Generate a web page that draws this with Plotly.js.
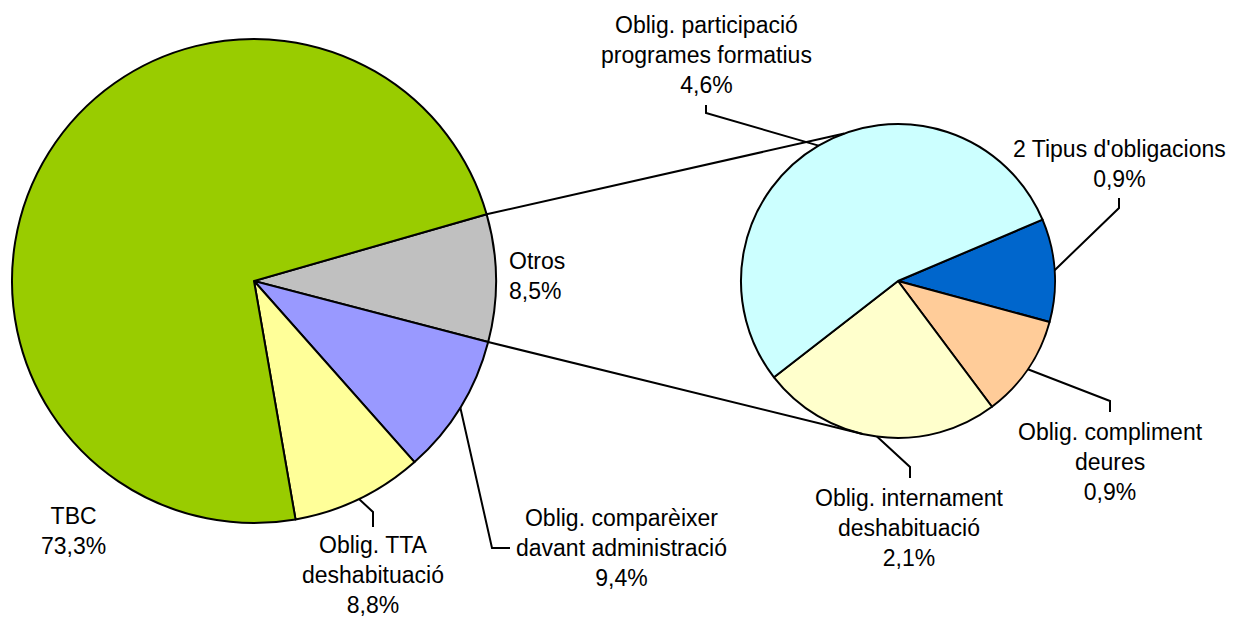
<!DOCTYPE html>
<html>
<head>
<meta charset="utf-8">
<script src="https://cdn.plot.ly/plotly-3.0.1.min.js"></script>
<style>html,body{margin:0;padding:0;background:#fff;}#chart{width:1236px;height:617px;}</style>
</head>
<body>
<div id="chart"></div>
<script>
// ---- data ----
const mainLabels = ["Otros", "Oblig. comparèixer<br>davant administració", "Oblig. TTA<br>deshabituació", "TBC"];
const mainValues = [8.5, 9.4, 8.8, 73.3];
const mainColors = ["#C0C0C0", "#9999FF", "#FFFF99", "#99CC00"];

const subLabels = ["2 Tipus d'obligacions", "Oblig. compliment<br>deures", "Oblig. internament<br>deshabituació", "Oblig. participació<br>programes formatius"];
const subValues = [0.9, 0.9, 2.1, 4.6];
const subColors = ["#0066CC", "#FFCC99", "#FFFFCC", "#CCFFFF"];

const fmt = v => v.toFixed(1).replace('.', ',') + '%';

// ---- geometry (pixels) ----
const W = 1236, H = 617;
const M = {cx: 254, cy: 281, r: 242, rot: 74};
const S = {cx: 898, cy: 281, r: 157, rot: 67};
const px = x => x / W, py = y => 1 - y / H;

function dom(g) {
  return {x: [px(g.cx - g.r), px(g.cx + g.r)], y: [py(g.cy + g.r), py(g.cy - g.r)]};
}
// angle measured clockwise from 3 o'clock (screen)
function pt(g, ang) {
  const a = ang * Math.PI / 180;
  return [g.cx + g.r * Math.cos(a), g.cy + g.r * Math.sin(a)];
}
function sliceAngles(g, values) {
  const tot = values.reduce((a, b) => a + b, 0);
  let start = g.rot - 90;
  return values.map(v => {
    const span = v / tot * 360;
    const o = {start: start, end: start + span, mid: start + span / 2};
    start += span;
    return o;
  });
}
const mA = sliceAngles(M, mainValues);
const sA = sliceAngles(S, subValues);

const traces = [
  {type: 'pie', labels: mainLabels, values: mainValues, sort: false, direction: 'clockwise',
   rotation: M.rot, domain: dom(M), textinfo: 'none', hoverinfo: 'label+percent',
   marker: {colors: mainColors, line: {color: '#000', width: 2}}, showlegend: false},
  {type: 'pie', labels: subLabels, values: subValues, sort: false, direction: 'clockwise',
   rotation: S.rot, domain: dom(S), textinfo: 'none', hoverinfo: 'label+percent',
   marker: {colors: subColors, line: {color: '#000', width: 2}}, showlegend: false}
];

// ---- shapes ----
const shapes = [];
function poly(points) {
  const d = points.map((p, i) => (i ? 'L' : 'M') + px(p[0]).toFixed(5) + ',' + py(p[1]).toFixed(5)).join(' ');
  shapes.push({type: 'path', xref: 'paper', yref: 'paper', path: d, line: {color: '#000', width: 2}, layer: 'above'});
}
// connectors from "Otros" slice to the secondary pie
poly([pt(M, mA[0].start), pt(S, -110)]);
poly([pt(M, mA[0].end), pt(S, 103)]);
// leader lines
poly([pt(M, mA[1].mid), [492, 548], [510, 548]]);
poly([pt(M, mA[2].mid), [373, 512], [373, 527]]);
poly([pt(S, sA[0].mid), [1119, 208], [1119, 198]]);
poly([pt(S, sA[1].mid), [1110, 401], [1110, 412]]);
poly([pt(S, sA[2].mid), [910, 467], [910, 478]]);
poly([pt(S, sA[3].mid), [706, 113], [706, 105]]);

// ---- labels ----
const font = {family: 'Arial, "Liberation Sans", sans-serif', size: 23, color: '#000'};
function ann(text, x, y, xanchor, align) {
  return {text: text, x: px(x), y: py(y), xref: 'paper', yref: 'paper', showarrow: false,
          xanchor: xanchor || 'center', yanchor: 'middle', align: align || 'center', font: font};
}
const annotations = [
  ann(mainLabels[3] + '<br>' + fmt(mainValues[3]), 73, 531),
  ann(mainLabels[0] + '<br>' + fmt(mainValues[0]), 507, 276, 'left', 'left'),
  ann(mainLabels[2] + '<br>' + fmt(mainValues[2]), 373, 575),
  ann(mainLabels[1] + '<br>' + fmt(mainValues[1]), 621, 548),
  ann(subLabels[3] + '<br>' + fmt(subValues[3]), 706, 55),
  ann(subLabels[0] + '<br>' + fmt(subValues[0]), 1119, 164),
  ann(subLabels[1] + '<br>' + fmt(subValues[1]), 1110, 462),
  ann(subLabels[2] + '<br>' + fmt(subValues[2]), 909, 528)
];

Plotly.newPlot('chart', traces, {
  width: W, height: H, margin: {l: 0, r: 0, t: 0, b: 0},
  paper_bgcolor: '#fff', plot_bgcolor: '#fff',
  shapes: shapes, annotations: annotations, showlegend: false
}, {displayModeBar: false, staticPlot: true});
</script>
</body>
</html>
